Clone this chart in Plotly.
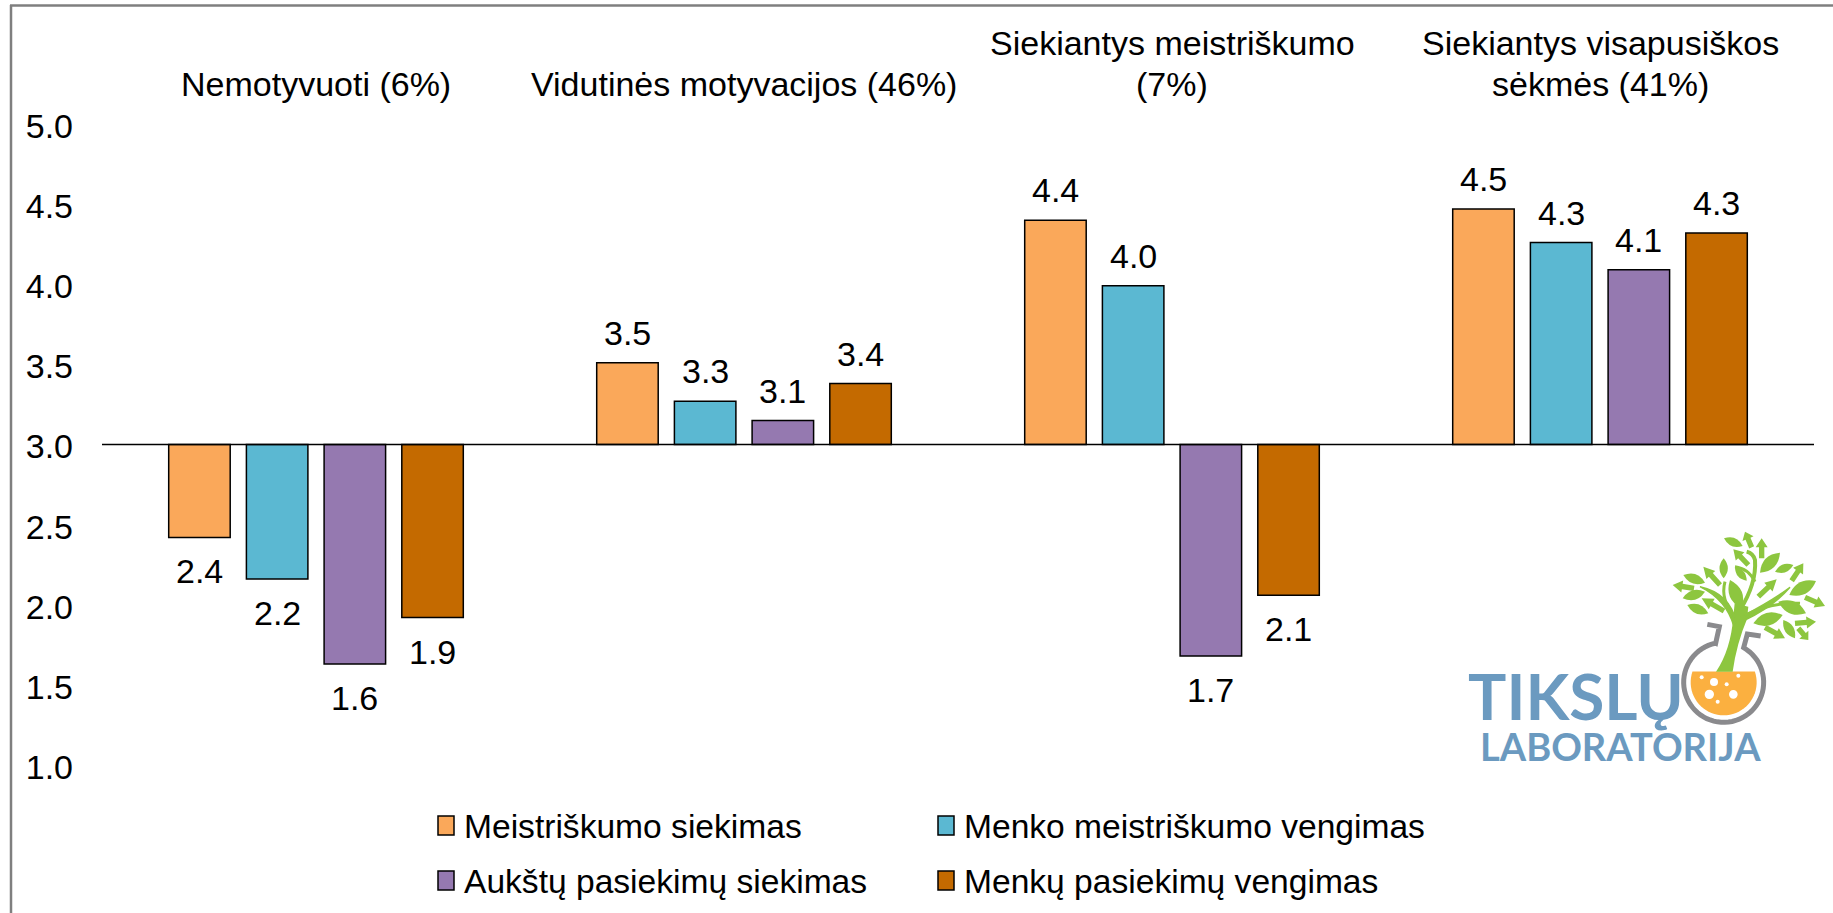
import math
import plotly.graph_objects as go

group_lines = [["Nemotyvuoti (6%)"], ["Vidutinės motyvacijos (46%)"], ["Siekiantys meistriškumo", "(7%)"], ["Siekiantys visapusiškos", "sėkmės (41%)"]]
groups = [" ".join(g) for g in group_lines]
series_names = ["Meistriškumo siekimas", "Menko meistriškumo vengimas", "Aukštų pasiekimų siekimas", "Menkų pasiekimų vengimas"]
mastery_approach = [2.42, 3.51, 4.40, 4.47]
mastery_avoid = [2.16, 3.27, 3.99, 4.26]
perf_approach = [1.63, 3.149, 1.68, 4.09]
perf_avoid = [1.92, 3.38, 2.06, 4.32]
colors = ["#FAA85A", "#5BB8D2", "#9579B0", "#C46A00"]
series_values = [mastery_approach, mastery_avoid, perf_approach, perf_avoid]
baseline = 3.0
y_ticks = [1.0, 1.5, 2.0, 2.5, 3.0, 3.5, 4.0, 4.5, 5.0]

W, H = 1833, 913
ML, MR, MT, MB = 102, 19, 124, 148
PW, PH = W - ML - MR, H - MT - MB
FONT = "Liberation Sans, Arial, sans-serif"
FS = 34
BAR_STEP = 77.7 / 428


def fx(px):
    return (px - ML) / PW


def fy(py):
    return 1 - (py - MT) / PH


fig = go.Figure()
for name, vals, col in zip(series_names, series_values, colors):
    fig.add_trace(go.Bar(
        name=name, x=groups, y=[v - baseline for v in vals], base=baseline,
        marker=dict(color=col, line=dict(color="black", width=1.5)),
        customdata=vals, hovertemplate="%{customdata:.1f}<extra>" + name + "</extra>",
    ))

annotations = []
for j, vals in enumerate(series_values):
    for i, v in enumerate(vals):
        up = v >= baseline
        annotations.append(dict(
            x=i + (j - 1.5) * BAR_STEP, y=v, xref="x", yref="y", text=f"{v:.1f}", showarrow=False,
            yshift=30 if up else -34, font=dict(family=FONT, size=FS, color="black"),
            xanchor="center", yanchor="middle",
        ))

# group titles: last line of every title sits on the same level
for i, lines in enumerate(group_lines):
    for k, line in enumerate(reversed(lines)):
        annotations.append(dict(x=i, y=fy(84 - 41 * k), xref="x", yref="paper", text=line, showarrow=False,
                                xanchor="center", yanchor="middle", font=dict(family=FONT, size=FS, color="black")))

shapes = [
    dict(type="line", xref="paper", yref="y", x0=0, x1=1, y0=baseline, y1=baseline, line=dict(color="black", width=1.5)),
    dict(type="line", xref="paper", yref="paper", x0=fx(11), x1=fx(11), y0=fy(5), y1=fy(913), line=dict(color="#7f7f7f", width=2.5)),
    dict(type="line", xref="paper", yref="paper", x0=fx(10), x1=fx(1833), y0=fy(5.5), y1=fy(5.5), line=dict(color="#7f7f7f", width=2.5)),
]

# legend
legend_pos = [(438, 826), (938, 826), (438, 881), (938, 881)]
for (lx, ly), name, col in zip(legend_pos, series_names, colors):
    shapes.append(dict(type="rect", xref="paper", yref="paper", x0=fx(lx), x1=fx(lx + 16), y0=fy(ly - 10), y1=fy(ly + 9),
                       fillcolor=col, line=dict(color="black", width=1.5)))
    annotations.append(dict(x=fx(lx + 24), y=fy(ly), xref="paper", yref="paper", text=name, showarrow=False,
                            xanchor="left", yanchor="middle", font=dict(family=FONT, size=33.6, color="black")))


# logo, drawn in zoom coordinates of the logo box
def zx(v):
    return fx(1440 + v / 3)


def zy(v):
    return fy(510 + v / 3)


def P(x, y):
    return f"{zx(x):.5f},{zy(y):.5f}"


GREEN, GREY, ORANGE, BLUE = "#8DC63F", "#8A8A8D", "#FBB040", "#6B9AC0"


def add_path(d, fill=None, line=None, width=0):
    shapes.append(dict(type="path", xref="paper", yref="paper", path=d,
                       fillcolor=fill if fill else "rgba(0,0,0,0)",
                       line=dict(color=line if line else "rgba(0,0,0,0)", width=width)))


def circle(x, y, r, fill=None):
    shapes.append(dict(type="circle", xref="paper", yref="paper", x0=zx(x - r), x1=zx(x + r), y0=zy(y + r), y1=zy(y - r),
                       fillcolor=fill, line=dict(color="rgba(0,0,0,0)", width=0)))


def arc(cx, cy, r, a0, a1, n=40):
    return [P(cx + r * math.cos(math.radians(a0 + (a1 - a0) * t / n)), cy + r * math.sin(math.radians(a0 + (a1 - a0) * t / n)))
            for t in range(n + 1)]


def leaf(x1, y1, x2, y2, k=0.42):
    mx, my = (x1 + x2) / 2, (y1 + y2) / 2
    nx, ny = -(y2 - y1) * k, (x2 - x1) * k
    add_path(f"M{P(x1, y1)} Q{P(mx + nx, my + ny)} {P(x2, y2)} Q{P(mx - nx, my - ny)} {P(x1, y1)} Z", fill=GREEN)


def arrow(x1, y1, x2, y2):
    dx, dy = x2 - x1, y2 - y1
    L = (dx * dx + dy * dy) ** 0.5
    ux, uy = dx / L, dy / L
    nx, ny = -uy, ux
    hb = L * 0.55
    sw, hw = 8, 18
    bx, by = x1 + ux * hb, y1 + uy * hb
    pts = [(x1 + nx * sw, y1 + ny * sw), (bx + nx * sw, by + ny * sw), (bx + nx * hw, by + ny * hw), (x2, y2),
           (bx - nx * hw, by - ny * hw), (bx - nx * sw, by - ny * sw), (x1 - nx * sw, y1 - ny * sw)]
    add_path("M" + " L".join(P(a, b) for a, b in pts) + " Z", fill=GREEN)


# flask
flask_arc = arc(851, 517, 120, 258, -60, 60)  # counter-clockwise from the left neck round to the right neck
add_path(f"M{P(802, 343)} L{P(838, 350)} L{P(827, 400)} L" + " L".join(flask_arc) + f" L{P(922, 372)} L{P(962, 378)}",
         line=GREY, width=5)
add_path("M" + " L".join(arc(851, 517, 99, 199, 199 - 218, 40)) + " Z", fill=ORANGE)
for bx, by, br in [(785, 502, 6), (822, 516, 12), (860, 523, 6), (895, 497, 6), (808, 553, 14), (880, 553, 13), (833, 575, 6)]:
    circle(bx, by, br, fill="white")
# trunk and branches
add_path(f"M{P(828, 485)} Q{P(872, 420)} {P(880, 320)} L{P(884, 280)} L{P(925, 290)} Q{P(922, 315)} {P(922, 325)} "
         f"Q{P(890, 400)} {P(878, 485)} Z", fill=GREEN)
add_path(f"M{P(888, 335)} Q{P(870, 250)} {P(780, 230)} Q{P(860, 270)} {P(882, 350)} Z", fill=GREEN, line=GREEN, width=1.5)
add_path(f"M{P(885, 320)} Q{P(840, 270)} {P(855, 215)}", line=GREEN, width=3)
add_path(f"M{P(900, 300)} Q{P(950, 220)} {P(945, 150)} Q{P(940, 130)} {P(920, 125)}", line=GREEN, width=4)
add_path(f"M{P(905, 320)} Q{P(1000, 270)} {P(1050, 232)} Q{P(1000, 290)} {P(915, 330)} Z", fill=GREEN, line=GREEN, width=1.5)
add_path(f"M{P(915, 315)} Q{P(1000, 275)} {P(1080, 280)}", line=GREEN, width=3)
add_path(f"M{P(945, 215)} Q{P(925, 175)} {P(885, 170)}", line=GREEN, width=3)
for lf in [(730, 195, 795, 218), (728, 265, 795, 245), (742, 285, 805, 310), (852, 85, 908, 108), (851, 145, 851, 205),
           (885, 172, 920, 212), (870, 210, 905, 295), (960, 188, 1020, 128), (1005, 185, 1060, 165), (1048, 255, 1128, 213),
           (1015, 275, 1098, 310), (940, 340, 1028, 315), (1030, 330, 1065, 385)]:
    leaf(*lf)
for ar in [(762, 235, 698, 225), (840, 225, 790, 170), (852, 303, 785, 265), (925, 165, 880, 118), (935, 112, 915, 65),
           (965, 145, 965, 85), (955, 260, 1010, 208), (1055, 212, 1090, 160), (1095, 262, 1155, 288), (1065, 340, 1128, 335),
           (975, 352, 1035, 385), (1075, 355, 1105, 390)]:
    arrow(*ar)

annotations.append(dict(x=zx(409), y=zy(557), xref="paper", yref="paper", text="<b>TIKSLŲ</b>", showarrow=False,
                        xanchor="center", yanchor="middle", font=dict(family="Lato", size=64, color=BLUE)))
annotations.append(dict(x=zx(542), y=zy(707), xref="paper", yref="paper", text="<b>LABORATORIJA</b>", showarrow=False,
                        xanchor="center", yanchor="middle", font=dict(family="Lato", size=38, color=BLUE)))

fig.update_layout(
    width=W, height=H, margin=dict(l=ML, r=MR, t=MT, b=MB, autoexpand=False),
    paper_bgcolor="white", plot_bgcolor="white", showlegend=False,
    barmode="group", bargap=1 - 4 * 77.7 / 428, bargroupgap=1 - 61.5 / 77.7,
    font=dict(family=FONT, size=FS, color="black"),
    xaxis=dict(type="category", categoryorder="array", categoryarray=groups, showticklabels=False, showline=False, showgrid=False,
               zeroline=False, ticks=""),
    yaxis=dict(range=[1, 5], tickmode="array", tickvals=y_ticks, ticktext=[f"{t:.1f}" for t in y_ticks], showline=False, showgrid=False,
               zeroline=False, ticks="", ticklabelstandoff=28, ticklabelshift=2, tickfont=dict(family=FONT, size=FS, color="black")),
    shapes=shapes, annotations=annotations,
)

fig.write_html("out.html", config=dict(displayModeBar=False),
               post_script="document.body.style.margin='0';document.documentElement.style.overflow='hidden';")
